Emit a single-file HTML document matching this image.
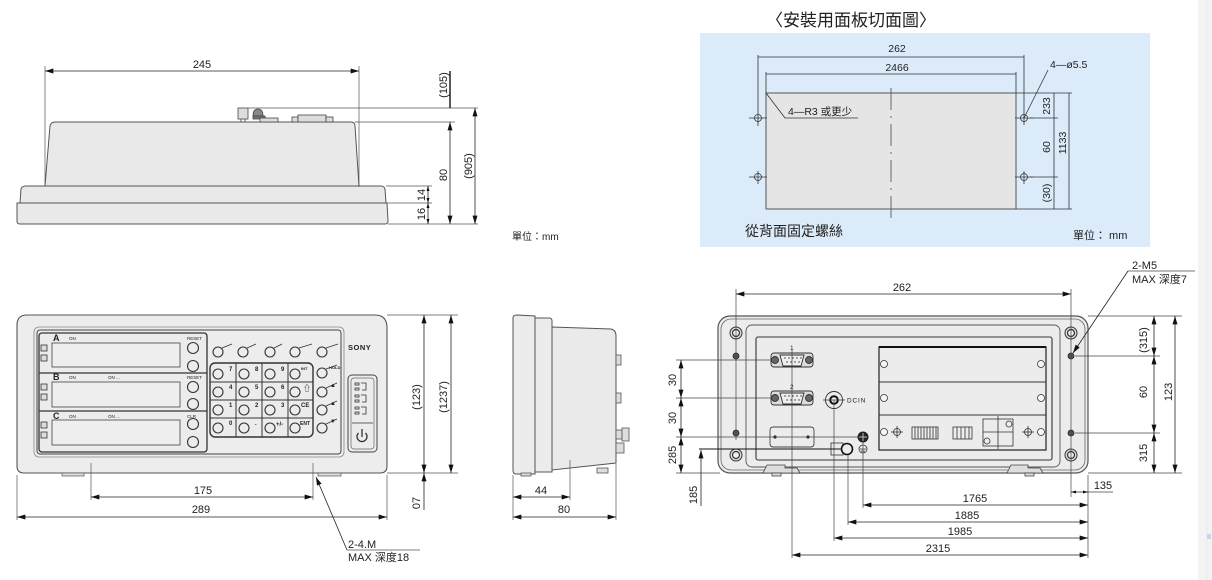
<!DOCTYPE html>
<html><head><meta charset="utf-8"><style>
html,body{margin:0;padding:0;background:#fff;}
svg{display:block;}
text{font-family:"Liberation Sans","Noto Sans CJK TC",sans-serif;fill:#222;}
</style></head><body>
<svg width="1212" height="580" viewBox="0 0 1212 580" xmlns="http://www.w3.org/2000/svg">
<defs>
<marker id="ar" viewBox="0 0 10 6" refX="10" refY="3" markerUnits="userSpaceOnUse" markerWidth="9" markerHeight="5" orient="auto-start-reverse"><path d="M0,0L10,3L0,6z" fill="#111"/></marker>
<marker id="as" viewBox="0 0 10 6" refX="10" refY="3" markerUnits="userSpaceOnUse" markerWidth="5" markerHeight="3" orient="auto-start-reverse"><path d="M0,0L10,3L0,6z" fill="#111"/></marker>
</defs>
<rect x="0" y="0" width="1212" height="580" fill="#fff"/>
<!-- right strip -->
<rect x="1198" y="0" width="14" height="580" fill="#f3f3f3"/>
<line x1="1207" y1="0" x2="1207" y2="580" stroke="#e8e8e8" stroke-width="1"/>
<rect x="1207" y="534" width="4" height="5" fill="#c9d6ea"/>

<!-- ============ TOP LEFT SIDE VIEW ============ -->
<g stroke="#555" stroke-width="1" fill="#e9e9e9">
 <path d="M45,186 L50,126 Q51,122 55,122 L351,122 Q355,122 355,126 L359,186 Z"/>
 <path d="M20,203 L21,189 Q22,186 26,186 L381,186 Q384,186 385,189 L386,203 Z"/>
 <path d="M17,203 L387,203 L388,221 Q388,224 385,224 L20,224 Q17,224 17,221 Z"/>
</g>
<g stroke="#444" stroke-width="0.8" fill="#ddd">
 <rect x="238" y="108" width="10" height="11"/>
 <line x1="241" y1="119" x2="241" y2="122"/><line x1="245" y1="119" x2="245" y2="122"/>
 <path d="M253,116 Q253,109 258,109 Q263,109 263,116 Z" fill="#888"/>
 <rect x="253" y="116" width="12" height="3" fill="#777"/>
 <rect x="260" y="118" width="18" height="4"/>
 <rect x="292" y="117" width="6" height="5"/><rect x="298" y="115" width="28" height="7"/><rect x="326" y="117" width="7" height="5"/>
</g>
<g stroke="#555" stroke-width="0.7" fill="none">
 <line x1="45" y1="66" x2="45" y2="186"/><line x1="359" y1="66" x2="359" y2="187"/>
 <line x1="248" y1="108" x2="478" y2="108"/>
 <line x1="355" y1="122" x2="455" y2="122"/>
 <line x1="386" y1="186" x2="432" y2="186"/>
 <line x1="387" y1="203" x2="432" y2="203"/>
 <line x1="388" y1="224" x2="478" y2="224"/>
</g>
<g stroke="#222" stroke-width="0.8" fill="none">
 <line x1="45" y1="71" x2="359" y2="71" marker-start="url(#ar)" marker-end="url(#ar)"/>
 <line x1="450" y1="122" x2="450" y2="224" marker-start="url(#ar)" marker-end="url(#ar)"/>
 <line x1="475" y1="108" x2="475" y2="224" marker-start="url(#ar)" marker-end="url(#ar)"/>
 <line x1="428" y1="186" x2="428" y2="203" marker-start="url(#as)" marker-end="url(#as)"/>
 <line x1="428" y1="203" x2="428" y2="224" marker-start="url(#as)" marker-end="url(#as)"/>
</g>
<line x1="450" y1="71" x2="450" y2="108" stroke="#000" stroke-width="1.3"/>
<g font-size="11">
 <text x="202" y="68" text-anchor="middle">245</text>
 <text transform="translate(447,85) rotate(-90)" text-anchor="middle">(105)</text>
 <text transform="translate(447,175) rotate(-90)" text-anchor="middle">80</text>
 <text transform="translate(472,166) rotate(-90)" text-anchor="middle">(905)</text>
 <text transform="translate(425,195) rotate(-90)" text-anchor="middle">14</text>
 <text transform="translate(425,214) rotate(-90)" text-anchor="middle">16</text>
</g>
<text x="512" y="240" font-size="10">單位：mm</text>

<!-- ============ TOP RIGHT PANEL CUTOUT ============ -->
<text x="766" y="26" font-size="17" fill="#333">〈安裝用面板切面圖〉</text>
<rect x="700" y="33" width="450" height="214" fill="#dcebf9"/>
<rect x="766" y="93" width="250" height="116" fill="#e5e5e5" stroke="#555" stroke-width="1"/>
<line x1="891" y1="88" x2="891" y2="218" stroke="#666" stroke-width="1" stroke-dasharray="22,6,2,6"/>
<g stroke="#333" stroke-width="0.8" fill="none">
 <line x1="758" y1="57" x2="1024" y2="57"/>
 <line x1="758" y1="55" x2="758" y2="126"/><line x1="1024" y1="55" x2="1024" y2="125"/>
 <line x1="766" y1="74" x2="1016" y2="74"/>
 <line x1="766" y1="72" x2="766" y2="93"/><line x1="1016" y1="72" x2="1016" y2="93"/>
 <line x1="758" y1="171" x2="758" y2="184"/><line x1="1024" y1="171" x2="1024" y2="184"/>
 <line x1="749" y1="118" x2="767" y2="118"/><line x1="749" y1="177" x2="767" y2="177"/>
 <line x1="1015" y1="118" x2="1033" y2="118"/><line x1="1015" y1="177" x2="1033" y2="177"/>
 <circle cx="758" cy="118" r="3.5"/><circle cx="758" cy="177" r="3.5"/>
 <circle cx="1024" cy="118" r="3.5"/><circle cx="1024" cy="177" r="3.5"/>
 <path d="M766,93 L785,118 L858,118"/>
 <path d="M1024,118 L1048,70"/>
 <line x1="1016" y1="93" x2="1072" y2="93"/><line x1="1030" y1="118" x2="1058" y2="118"/>
 <line x1="1030" y1="177" x2="1058" y2="177"/><line x1="1016" y1="209" x2="1072" y2="209"/>
 <line x1="1054" y1="93" x2="1054" y2="209"/>
 <line x1="1069" y1="93" x2="1069" y2="209"/>
</g>
<g font-size="10.5">
 <text x="897" y="52" text-anchor="middle">262</text>
 <text x="897" y="71" text-anchor="middle">2466</text>
 <text x="788" y="115">4—R3 或更少</text>
 <text x="1050" y="68">4—ø5.5</text>
 <text transform="translate(1050,106) rotate(-90)" text-anchor="middle">233</text>
 <text transform="translate(1050,147) rotate(-90)" text-anchor="middle">60</text>
 <text transform="translate(1050,193) rotate(-90)" text-anchor="middle">(30)</text>
 <text transform="translate(1066,143) rotate(-90)" text-anchor="middle">1133</text>
</g>
<text x="745" y="236" font-size="14" fill="#333">從背面固定螺絲</text>
<text x="1073" y="239" font-size="11">單位： mm</text>

<!-- ============ FRONT VIEW ============ -->
<path d="M27,315 L375,315 Q387,315 387,328 L387,466 Q387,473 380,473 L24,473 Q17,473 17,466 L17,325 Q17,315 27,315 Z" fill="#ededed" stroke="#555" stroke-width="1.1"/>
<rect x="34" y="327" width="310" height="130" rx="5" fill="none" stroke="#888" stroke-width="0.8"/>
<rect x="37" y="330" width="304" height="124" rx="3" fill="none" stroke="#444" stroke-width="1"/>
<rect x="39" y="333" width="168" height="119" rx="3" fill="#ececec" stroke="#333" stroke-width="1.3"/>
<line x1="39" y1="373" x2="207" y2="373" stroke="#333" stroke-width="1.3"/>
<line x1="39" y1="411" x2="207" y2="411" stroke="#333" stroke-width="1.3"/>
<g fill="#eee" stroke="#555" stroke-width="0.9">
 <rect x="52" y="343" width="128" height="24"/>
 <rect x="52" y="382" width="128" height="25"/>
 <rect x="52" y="420" width="128" height="25"/>
</g>
<g fill="#ddd" stroke="#333" stroke-width="0.8">
 <rect x="41" y="345" width="6" height="6"/><rect x="41" y="355" width="6" height="6"/>
 <rect x="41" y="384" width="6" height="6"/><rect x="41" y="394" width="6" height="6"/>
 <rect x="41" y="422" width="6" height="6"/><rect x="41" y="432" width="6" height="6"/>
</g>
<g font-size="9" font-weight="bold">
 <text x="53" y="341">A</text><text x="53" y="380">B</text><text x="53" y="419">C</text>
</g>
<g font-size="4.5" fill="#444">
 <text x="69" y="340">ON</text><text x="69" y="379">ON</text><text x="108" y="379">ON ...</text>
 <text x="69" y="418">ON</text><text x="108" y="418">ON ...</text>
 <text x="187" y="340">RESET</text><text x="187" y="379">RESET</text><text x="187" y="418">CLR</text>
</g>
<g fill="none" stroke="#333" stroke-width="1.1">
 <circle cx="193" cy="348" r="5.5"/><circle cx="193" cy="366" r="5.5"/>
 <circle cx="193" cy="387" r="5.5"/><circle cx="193" cy="404" r="5.5"/>
 <circle cx="193" cy="424" r="5.5"/><circle cx="193" cy="442" r="5.5"/>
</g>
<!-- keypad -->
<rect x="210" y="363" width="103" height="74" rx="5" fill="#ececec" stroke="#333" stroke-width="1.4"/>
<g stroke="#333" stroke-width="1">
 <line x1="236" y1="363" x2="236" y2="437"/><line x1="262" y1="363" x2="262" y2="437"/><line x1="288" y1="363" x2="288" y2="437"/>
 <line x1="210" y1="382" x2="313" y2="382"/><line x1="210" y1="400" x2="313" y2="400"/><line x1="210" y1="418" x2="313" y2="418"/>
</g>
<g fill="none" stroke="#333" stroke-width="1.1">
 <circle cx="218" cy="374" r="5"/><circle cx="244" cy="374" r="5"/><circle cx="270" cy="374" r="5"/><circle cx="295" cy="374" r="5"/>
 <circle cx="218" cy="392" r="5"/><circle cx="244" cy="392" r="5"/><circle cx="270" cy="392" r="5"/><circle cx="295" cy="392" r="5"/>
 <circle cx="218" cy="410" r="5"/><circle cx="244" cy="410" r="5"/><circle cx="270" cy="410" r="5"/><circle cx="295" cy="410" r="5"/>
 <circle cx="218" cy="428" r="5"/><circle cx="244" cy="428" r="5"/><circle cx="270" cy="428" r="5"/><circle cx="295" cy="428" r="5"/>
 <circle cx="218" cy="352" r="5"/><circle cx="243" cy="352" r="5"/><circle cx="270" cy="352" r="5"/><circle cx="295" cy="352" r="5"/><circle cx="322" cy="352" r="5"/>
 <circle cx="322" cy="373" r="5"/><circle cx="322" cy="392" r="5"/><circle cx="322" cy="410" r="5"/><circle cx="322" cy="428" r="5"/>
</g>
<g stroke="#333" stroke-width="0.8" fill="none">
 <path d="M222,348 L232,344"/><path d="M247,348 L256,344"/><path d="M274,348 L282,344"/><path d="M299,348 L312,344"/><path d="M326,348 L338,344"/>
 <path d="M326,369 L337,365"/><path d="M326,388 L337,383"/><path d="M326,406 L337,401"/><path d="M326,424 L337,419"/>
</g>
<g font-size="6" font-weight="bold" fill="#333">
 <text x="229" y="371">7</text><text x="255" y="371">8</text><text x="281" y="371">9</text><text x="301" y="370" font-size="4">INT</text>
 <text x="229" y="389">4</text><text x="255" y="389">5</text><text x="281" y="389">6</text><text x="303" y="391" font-size="8">⇧</text>
 <text x="229" y="407">1</text><text x="255" y="407">2</text><text x="281" y="407">3</text><text x="301" y="407">CE</text>
 <text x="229" y="425">0</text><text x="255" y="425">.</text><text x="276" y="426">+/-</text><text x="300" y="425" font-size="5">ENT</text>
 <text x="329" y="369" font-size="4">HOLD</text><text x="330" y="387">▲</text><text x="330" y="405">▲</text><text x="330" y="423">▼</text>
</g>
<text x="348" y="350" font-size="7.5" font-weight="bold" fill="#888" letter-spacing="0.5">SONY</text>
<rect x="348" y="375" width="29" height="77" rx="4" fill="#ececec" stroke="#444" stroke-width="1"/>
<rect x="351" y="378" width="23" height="71" rx="3" fill="none" stroke="#666" stroke-width="0.7"/>
<g fill="none" stroke="#333" stroke-width="0.8">
 <rect x="355" y="383" width="4" height="2"/><rect x="355" y="388" width="4" height="2"/><path d="M361,383 H366 V390 H362"/>
 <rect x="355" y="395" width="4" height="2"/><rect x="355" y="400" width="4" height="2"/><path d="M361,395 H366 V402 H362"/>
 <rect x="355" y="407" width="4" height="2"/><rect x="355" y="412" width="4" height="2"/><path d="M361,407 H366 V414 H362"/>
 <line x1="352" y1="423" x2="373" y2="423"/>
 <path d="M358.5,433 A5,5 0 1 0 365.5,433" stroke-width="1.3"/>
 <line x1="362" y1="429" x2="362" y2="437" stroke-width="1.3"/>
</g>
<g fill="#ddd" stroke="#555" stroke-width="0.7">
 <rect x="62" y="473" width="22" height="3"/><rect x="318" y="473" width="23" height="3"/>
</g>
<!-- front dims -->
<g stroke="#555" stroke-width="0.7">
 <line x1="91" y1="463" x2="91" y2="500"/><line x1="313" y1="463" x2="313" y2="500"/>
 <line x1="17" y1="475" x2="17" y2="520"/><line x1="387" y1="475" x2="387" y2="520"/>
 <line x1="387" y1="315" x2="458" y2="315"/><line x1="387" y1="473" x2="458" y2="473"/>
</g>
<g stroke="#222" stroke-width="0.8" fill="none">
 <line x1="91" y1="497" x2="313" y2="497" marker-start="url(#ar)" marker-end="url(#ar)"/>
 <line x1="17" y1="517" x2="387" y2="517" marker-start="url(#ar)" marker-end="url(#ar)"/>
 <line x1="424" y1="315" x2="424" y2="473" marker-start="url(#ar)" marker-end="url(#ar)"/>
 <line x1="451" y1="315" x2="451" y2="473" marker-start="url(#ar)" marker-end="url(#ar)"/>
 <line x1="424" y1="473" x2="424" y2="510" marker-start="url(#ar)"/>
 <line x1="316" y1="477" x2="347" y2="550" marker-start="url(#ar)"/>
 <line x1="347" y1="550" x2="420" y2="550" stroke="#555"/>
</g>
<g font-size="11">
 <text x="203" y="494" text-anchor="middle">175</text>
 <text x="201" y="513" text-anchor="middle">289</text>
 <text transform="translate(420,397) rotate(-90)" text-anchor="middle">(123)</text>
 <text transform="translate(447,397) rotate(-90)" text-anchor="middle">(1237)</text>
 <text transform="translate(420,503) rotate(-90)" text-anchor="middle">07</text>
 <text x="348" y="548">2-4.M</text>
 <text x="348" y="561">MAX 深度18</text>
</g>

<!-- ============ SIDE VIEW ============ -->
<g stroke="#555" stroke-width="1" fill="#ececec">
 <path d="M513,318 Q513,315 517,315 L535,316 L535,474 L516,474 Q513,474 513,470 Z"/>
 <path d="M535,318 L549,318 Q552,318 552,321 L552,472 L535,472 Z"/>
 <path d="M552,327 L611,329 Q616,330 616,336 L616,463 L552,470 Z" fill="#eaeaea"/>
</g>
<g stroke="#555" stroke-width="0.8" fill="#ddd">
 <rect x="616" y="355" width="5" height="10"/>
 <rect x="616" y="393" width="5" height="10"/>
 <rect x="616" y="430" width="6" height="9"/><rect x="622" y="428" width="7" height="13"/>
 <rect x="616" y="443" width="8" height="10"/>
 <rect x="521" y="473" width="10" height="3"/><rect x="597" y="468" width="11" height="5"/>
</g>
<g stroke="#555" stroke-width="0.7">
 <line x1="570" y1="460" x2="570" y2="500"/>
 <line x1="513" y1="475" x2="513" y2="520"/><line x1="616" y1="464" x2="616" y2="520"/>
</g>
<g stroke="#222" stroke-width="0.8" fill="none">
 <line x1="513" y1="497" x2="570" y2="497" marker-start="url(#ar)" marker-end="url(#ar)"/>
 <line x1="513" y1="517" x2="616" y2="517" marker-start="url(#ar)" marker-end="url(#ar)"/>
</g>
<g font-size="11">
 <text x="541" y="494" text-anchor="middle">44</text>
 <text x="564" y="513" text-anchor="middle">80</text>
</g>

<!-- ============ REAR VIEW ============ -->
<rect x="718" y="316" width="370" height="157" rx="12" fill="#ececec" stroke="#555" stroke-width="1.2"/>
<rect x="721" y="319" width="364" height="151" rx="10" fill="none" stroke="#666" stroke-width="0.8"/>
<rect x="746" y="325" width="314" height="142" rx="6" fill="none" stroke="#555" stroke-width="0.9"/>
<rect x="756" y="337" width="296" height="123" rx="2" fill="#ececec" stroke="#333" stroke-width="1.1"/>
<!-- mount holes -->
<g stroke="#333" stroke-width="1" fill="#ddd">
 <circle cx="736" cy="333" r="6"/><circle cx="736" cy="455" r="6"/><circle cx="1071" cy="333" r="6"/><circle cx="1071" cy="455" r="6"/>
</g>
<g stroke="#333" stroke-width="1.2" fill="#eee">
 <circle cx="736" cy="333" r="3.5"/><circle cx="736" cy="455" r="3.5"/><circle cx="1071" cy="333" r="3.5"/><circle cx="1071" cy="455" r="3.5"/>
</g>
<g fill="#555" stroke="#222" stroke-width="0.8">
 <circle cx="736" cy="356" r="3"/><circle cx="736" cy="433" r="3"/><circle cx="1071" cy="356" r="3"/><circle cx="1071" cy="433" r="3"/>
</g>
<!-- D-sub connectors -->
<g stroke="#333" stroke-width="0.9">
 <rect x="771" y="353" width="42" height="14" rx="3" fill="#ddd"/>
 <circle cx="775" cy="360" r="3.5" fill="#666"/><circle cx="809" cy="360" r="3.5" fill="#666"/>
 <path d="M780,355 L804,355 L801,366 L783,366 Z" fill="#eee"/>
 <rect x="771" y="391" width="42" height="14" rx="3" fill="#ddd"/>
 <circle cx="775" cy="398" r="3.5" fill="#666"/><circle cx="809" cy="398" r="3.5" fill="#666"/>
 <path d="M780,393 L804,393 L801,404 L783,404 Z" fill="#eee"/>
</g>
<g fill="#333">
 <circle cx="785" cy="358" r="0.7"/><circle cx="789" cy="358" r="0.7"/><circle cx="793" cy="358" r="0.7"/><circle cx="797" cy="358" r="0.7"/><circle cx="801" cy="358" r="0.7"/>
 <circle cx="787" cy="362" r="0.7"/><circle cx="791" cy="362" r="0.7"/><circle cx="795" cy="362" r="0.7"/><circle cx="799" cy="362" r="0.7"/>
 <circle cx="785" cy="396" r="0.7"/><circle cx="789" cy="396" r="0.7"/><circle cx="793" cy="396" r="0.7"/><circle cx="797" cy="396" r="0.7"/><circle cx="801" cy="396" r="0.7"/>
 <circle cx="787" cy="400" r="0.7"/><circle cx="791" cy="400" r="0.7"/><circle cx="795" cy="400" r="0.7"/><circle cx="799" cy="400" r="0.7"/>
</g>
<g font-size="6.5"><text x="790" y="350">1</text><text x="790" y="389">2</text></g>
<!-- DC IN -->
<circle cx="834" cy="400" r="8.5" fill="none" stroke="#333" stroke-width="0.9"/>
<circle cx="834" cy="400" r="3.8" fill="none" stroke="#111" stroke-width="2"/>
<line x1="823" y1="400" x2="845" y2="400" stroke="#333" stroke-width="0.7"/>
<text x="847" y="402.5" font-size="6.5" letter-spacing="0.8">DCIN</text>
<!-- lower-left box -->
<rect x="770" y="427" width="44" height="20" rx="3" fill="none" stroke="#444" stroke-width="0.9"/>
<circle cx="775" cy="437" r="1.6" fill="#222"/><circle cx="808" cy="437" r="1.6" fill="#222"/>
<!-- ground -->
<circle cx="863" cy="437" r="5.5" fill="#222"/>
<line x1="859" y1="437" x2="867" y2="437" stroke="#bbb" stroke-width="1"/><line x1="863" y1="433" x2="863" y2="441" stroke="#bbb" stroke-width="1"/>
<circle cx="863" cy="449" r="4" fill="none" stroke="#333" stroke-width="0.8"/>
<line x1="860" y1="449" x2="866" y2="449" stroke="#333" stroke-width="0.7"/><line x1="861" y1="451" x2="865" y2="451" stroke="#333" stroke-width="0.7"/>
<rect x="831" y="443" width="12" height="12" fill="none" stroke="#333" stroke-width="0.8"/>
<circle cx="847" cy="449" r="5.5" fill="#ececec" stroke="#111" stroke-width="1.6"/>
<!-- slot panel -->
<rect x="879" y="347" width="167" height="103" fill="#ececec" stroke="#222" stroke-width="1.2"/>
<line x1="879" y1="347" x2="1046" y2="347" stroke="#111" stroke-width="2"/>
<line x1="879" y1="382" x2="1046" y2="382" stroke="#333" stroke-width="1"/>
<line x1="879" y1="415" x2="1046" y2="415" stroke="#333" stroke-width="1"/>
<g fill="#f5f5f5" stroke="#333" stroke-width="0.8">
 <circle cx="884" cy="364" r="3.5"/><circle cx="884" cy="398" r="3.5"/><circle cx="884" cy="432" r="3.5"/>
 <circle cx="1041" cy="364" r="3.5"/><circle cx="1041" cy="398" r="3.5"/><circle cx="1041" cy="432" r="3.5"/>
</g>
<g fill="none" stroke="#333" stroke-width="0.8">
 <circle cx="897" cy="432" r="3.5"/><line x1="891" y1="432" x2="903" y2="432"/><line x1="897" y1="426" x2="897" y2="438"/>
 <circle cx="1028" cy="432" r="3.5"/><line x1="1022" y1="432" x2="1034" y2="432"/><line x1="1028" y1="426" x2="1028" y2="438"/>
 <rect x="912" y="427" width="26" height="12"/>
 <rect x="953" y="427" width="19" height="12"/>
 <rect x="983" y="419" width="30" height="27"/>
 <line x1="998" y1="416" x2="998" y2="449"/><line x1="983" y1="432" x2="1013" y2="432"/>
 <circle cx="1009" cy="424" r="3"/><circle cx="987" cy="441" r="3"/>
</g>
<g stroke="#333" stroke-width="0.8">
 <line x1="915" y1="427" x2="915" y2="439"/><line x1="918" y1="427" x2="918" y2="439"/><line x1="921" y1="427" x2="921" y2="439"/><line x1="924" y1="427" x2="924" y2="439"/><line x1="927" y1="427" x2="927" y2="439"/><line x1="930" y1="427" x2="930" y2="439"/><line x1="933" y1="427" x2="933" y2="439"/><line x1="936" y1="427" x2="936" y2="439"/>
 <line x1="957" y1="427" x2="957" y2="439"/><line x1="961" y1="427" x2="961" y2="439"/><line x1="965" y1="427" x2="965" y2="439"/><line x1="969" y1="427" x2="969" y2="439"/>
</g>
<!-- feet -->
<g fill="#ddd" stroke="#444" stroke-width="0.8">
 <path d="M763,473 L767,465 L785,465 L785,468 L797,468 L800,473 Z"/>
 <rect x="772" y="473" width="9" height="3"/>
 <path d="M1007,473 L1011,465 L1028,465 L1028,468 L1040,468 L1043,473 Z"/>
 <rect x="1025" y="473" width="9" height="3"/>
</g>
<!-- rear dims: extension lines -->
<g stroke="#444" stroke-width="0.7" fill="none">
 <line x1="736" y1="289" x2="736" y2="440"/>
 <line x1="1071" y1="289" x2="1071" y2="497"/>
 <line x1="676" y1="360" x2="772" y2="360"/>
 <line x1="676" y1="398" x2="772" y2="398"/>
 <line x1="676" y1="437" x2="858" y2="437"/>
 <line x1="676" y1="473" x2="720" y2="473"/>
 <line x1="863" y1="442" x2="863" y2="508"/>
 <line x1="848" y1="455" x2="848" y2="525"/>
 <line x1="834" y1="400" x2="834" y2="541"/>
 <line x1="792" y1="350" x2="792" y2="558"/>
 <line x1="1088" y1="475" x2="1088" y2="558"/>
 <line x1="1088" y1="316" x2="1182" y2="316"/>
 <line x1="1075" y1="356" x2="1160" y2="356"/>
 <line x1="1075" y1="433" x2="1160" y2="433"/>
 <line x1="1088" y1="473" x2="1182" y2="473"/>
 <line x1="1088" y1="492" x2="1113" y2="492"/>
 <line x1="1128" y1="271" x2="1195" y2="271"/>
</g>
<line x1="699" y1="449" x2="842" y2="449" stroke="#111" stroke-width="1"/>
<g stroke="#222" stroke-width="0.8" fill="none">
 <line x1="736" y1="294" x2="1071" y2="294" marker-start="url(#ar)" marker-end="url(#ar)"/>
 <line x1="681" y1="360" x2="681" y2="398" marker-start="url(#ar)" marker-end="url(#ar)"/>
 <line x1="681" y1="398" x2="681" y2="437" marker-start="url(#ar)" marker-end="url(#ar)"/>
 <line x1="681" y1="437" x2="681" y2="473" marker-start="url(#ar)" marker-end="url(#ar)"/>
 <line x1="701" y1="450" x2="701" y2="506" marker-start="url(#ar)"/>
 <line x1="863" y1="505" x2="1088" y2="505" marker-start="url(#ar)" marker-end="url(#ar)"/>
 <line x1="848" y1="522" x2="1088" y2="522" marker-start="url(#ar)" marker-end="url(#ar)"/>
 <line x1="834" y1="538" x2="1088" y2="538" marker-start="url(#ar)" marker-end="url(#ar)"/>
 <line x1="792" y1="555" x2="1088" y2="555" marker-start="url(#ar)" marker-end="url(#ar)"/>
 <line x1="1071" y1="492" x2="1088" y2="492" marker-start="url(#as)" marker-end="url(#as)"/>
 <line x1="1154" y1="316" x2="1154" y2="356" marker-start="url(#ar)" marker-end="url(#ar)"/>
 <line x1="1154" y1="356" x2="1154" y2="433" marker-start="url(#ar)" marker-end="url(#ar)"/>
 <line x1="1154" y1="433" x2="1154" y2="473" marker-start="url(#ar)" marker-end="url(#ar)"/>
 <line x1="1175" y1="316" x2="1175" y2="473" marker-start="url(#ar)" marker-end="url(#ar)"/>
 <line x1="1128" y1="271" x2="1073" y2="353" marker-end="url(#ar)"/>
</g>
<g font-size="11">
 <text x="902" y="291" text-anchor="middle">262</text>
 <text transform="translate(676,380) rotate(-90)" text-anchor="middle">30</text>
 <text transform="translate(676,418) rotate(-90)" text-anchor="middle">30</text>
 <text transform="translate(676,455) rotate(-90)" text-anchor="middle">285</text>
 <text transform="translate(697,495) rotate(-90)" text-anchor="middle">185</text>
 <text x="975" y="502" text-anchor="middle">1765</text>
 <text x="967" y="519" text-anchor="middle">1885</text>
 <text x="960" y="535" text-anchor="middle">1985</text>
 <text x="938" y="552" text-anchor="middle">2315</text>
 <text x="1103" y="489" text-anchor="middle">135</text>
 <text transform="translate(1147,340) rotate(-90)" text-anchor="middle">(315)</text>
 <text transform="translate(1147,392) rotate(-90)" text-anchor="middle">60</text>
 <text transform="translate(1147,453) rotate(-90)" text-anchor="middle">315</text>
 <text transform="translate(1172,392) rotate(-90)" text-anchor="middle">123</text>
 <text x="1132" y="269">2-M5</text>
 <text x="1132" y="283">MAX 深度7</text>
</g>
</svg>
</body></html>
